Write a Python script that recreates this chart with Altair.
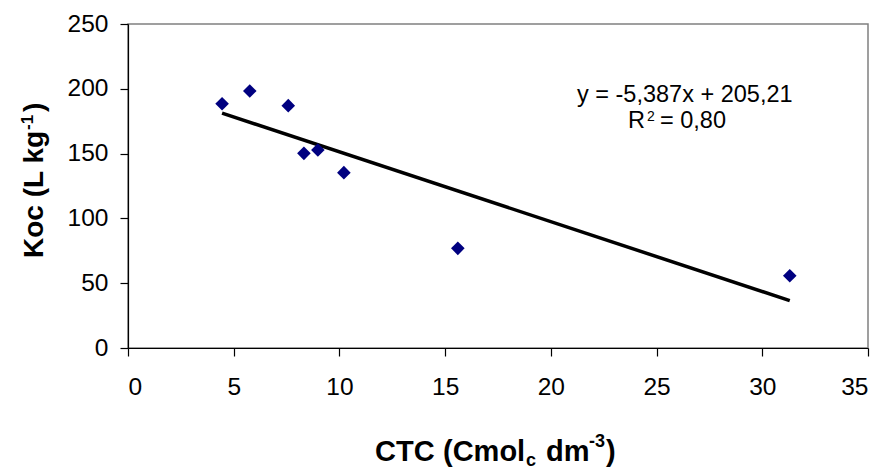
import altair as alt
import pandas as pd

# ---- data ----
ctc = [4.45, 5.76, 7.58, 8.32, 8.98, 10.21, 15.6, 31.3]
koc = [188.5, 198.3, 187.0, 150.2, 152.8, 135.3, 76.9, 55.8]
slope = -5.387
intercept = 205.21
eq_parts = ["y = -5,387x + 205,21", "R", "2", "= 0,80"]
x_ticks = [0, 5, 10, 15, 20, 25, 30, 35]
y_ticks = [0, 50, 100, 150, 200, 250]
x_title_parts = ["CTC", "(Cmol", "c", "dm", "-3", ")"]
y_title_parts = ["Koc (L kg", "-1", ")"]

FONT = "Liberation Sans"
W, H = 740, 324
LEFT, TOP = 128, 24

pts = pd.DataFrame({"ctc": ctc, "koc": koc})
x_ends = [min(ctc), max(ctc)]
fit = pd.DataFrame({"ctc": x_ends, "koc": [slope * v + intercept for v in x_ends]})

xs = alt.Scale(domain=[0, 35], nice=False, zero=False)
ys = alt.Scale(domain=[0, 250], nice=False, zero=False)

xax = alt.Axis(values=x_ticks, title=None, labelPadding=19, labelBaseline="top")
yax = alt.Axis(values=y_ticks, title=None, labelPadding=12)

points = alt.Chart(pts).mark_point(
    shape="diamond", filled=True, color="#000080", size=185, opacity=1
).encode(
    x=alt.X("ctc:Q", scale=xs, axis=xax),
    y=alt.Y("koc:Q", scale=ys, axis=yax),
)

line = alt.Chart(fit).mark_line(color="black", strokeWidth=3.5).encode(
    x=alt.X("ctc:Q", scale=xs),
    y=alt.Y("koc:Q", scale=ys),
)


def pieces(parts, layout, bold, angle=None):
    df = pd.DataFrame({"t": parts, "i": list(range(len(parts)))})
    out = []
    for i, (px, py, fs) in enumerate(layout):
        kw = dict(font=FONT, fontSize=fs, align="left", baseline="alphabetic", color="black")
        if bold:
            kw["fontWeight"] = "bold"
        if angle is not None:
            kw["angle"] = angle
        out.append(
            alt.Chart(df).transform_filter(f"datum.i == {i}").mark_text(**kw)
            .encode(text="t:N", x=alt.value(px - LEFT), y=alt.value(py - TOP))
        )
    return out


# equation annotation: (pixel x, pixel baseline y, font size)
eq_layout = [
    (577, 101.7, 23.5),
    (628, 128.3, 23.5),
    (647, 120.5, 14),
    (660, 128.3, 23.5),
]
eq_layers = pieces(eq_parts, eq_layout, bold=False)

# x-axis title pieces
x_layout = [
    (375, 461, 29),
    (443, 461, 29),
    (526, 466, 18),
    (546, 461, 29),
    (589, 447, 18),
    (606, 461, 29),
]
x_title_layers = pieces(x_title_parts, x_layout, bold=True)

# y-axis title (rotated) pieces: (pixel baseline x, pixel start y, font size)
y_layout = [
    (43, 258, 28),
    (33, 130, 17),
    (43, 112, 28),
]
y_title_layers = pieces(y_title_parts, y_layout, bold=True, angle=270)

chart = alt.layer(
    line, points, *eq_layers, *x_title_layers, *y_title_layers
).properties(
    width=W, height=H,
    autosize=alt.AutoSizeParams(type="none"),
    padding={"left": LEFT, "top": TOP, "right": 889 - LEFT - W, "bottom": 470 - TOP - H},
    background="white",
).configure_view(
    stroke="#808080", strokeWidth=1.5
).configure_axis(
    grid=False,
    domainColor="black", domainWidth=1.2,
    tickColor="black", tickWidth=1.2, tickSize=8,
    labelFont=FONT, labelFontSize=24.5, labelColor="black",
)

chart.save("out.html", embed_options={"renderer": "svg", "actions": False})
